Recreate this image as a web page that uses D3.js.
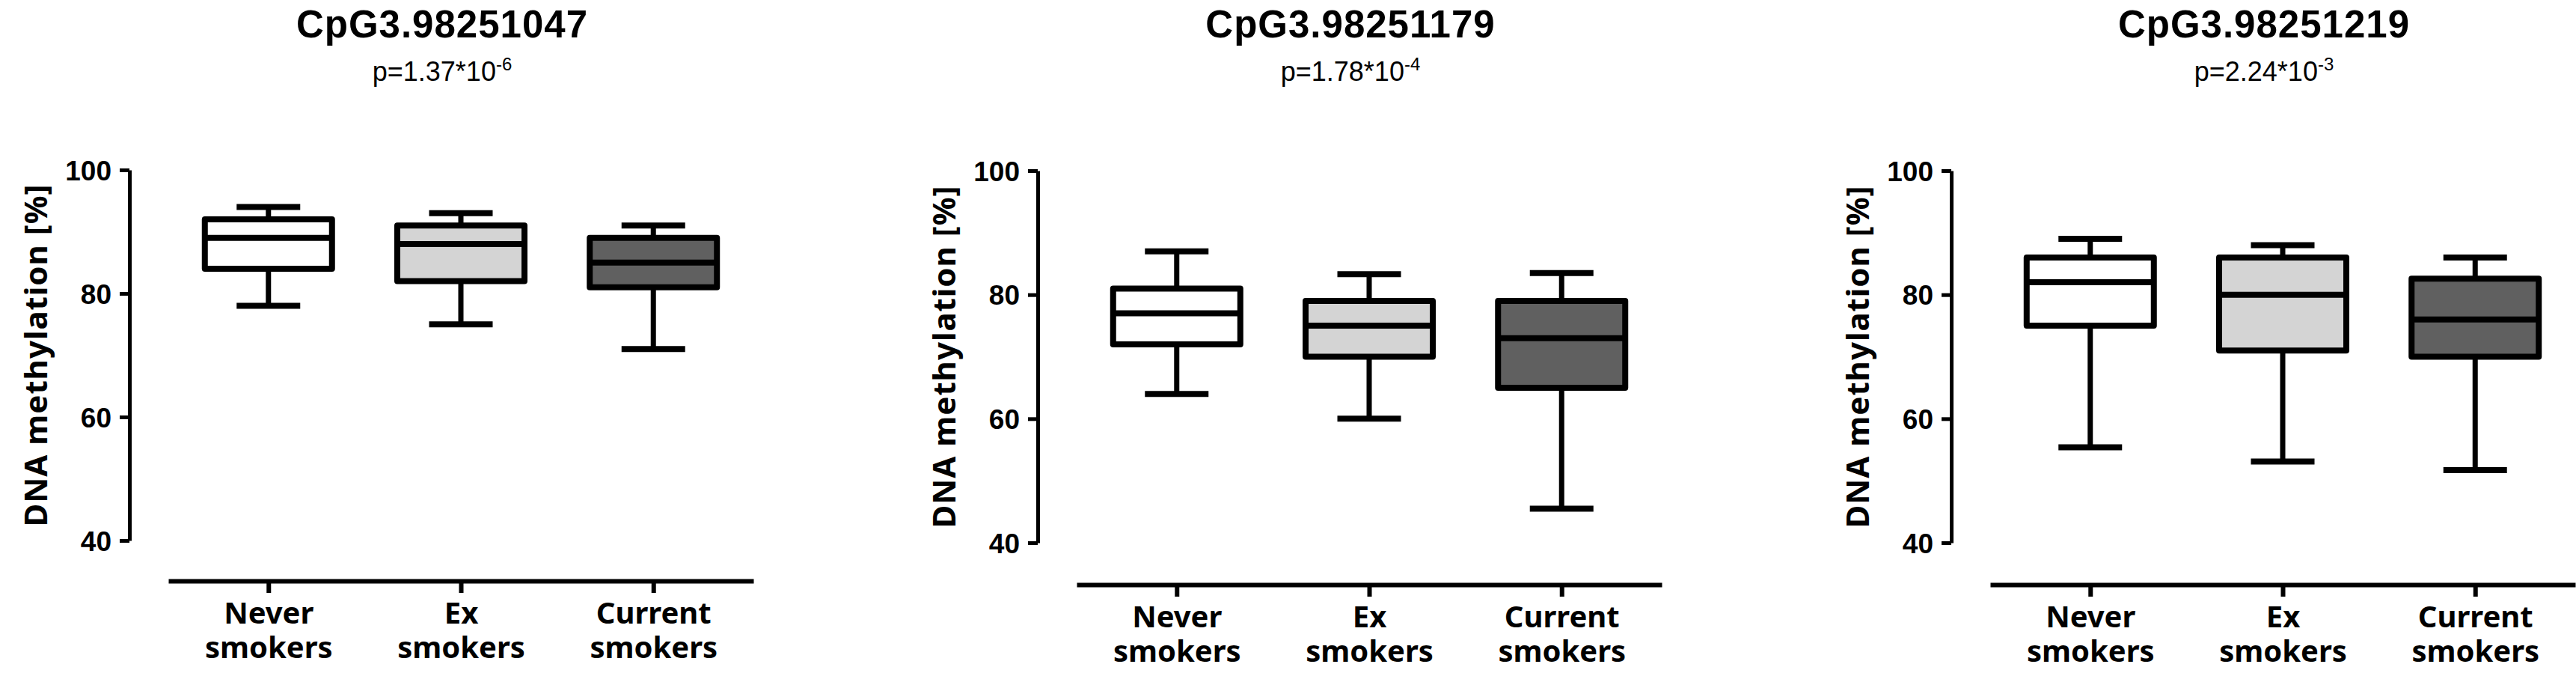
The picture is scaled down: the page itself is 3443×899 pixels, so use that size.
<!DOCTYPE html>
<html>
<head>
<meta charset="utf-8">
<script src="https://cdn.jsdelivr.net/npm/d3@7"></script>
<style>
  body { margin: 0; background: #fff; }
  svg { display: block; }
  .tick text { font-family: "Liberation Sans", Arial, sans-serif; font-weight: bold; }
</style>
</head>
<body>
<svg id="chart" width="3443" height="899"></svg>
<script>
// data
var groups   = ["Never smokers", "Ex smokers", "Current smokers"];
var cpgNames = ["CpG3.98251047", "CpG3.98251179", "CpG3.98251219"];
var pBase    = ["p=1.37*10", "p=1.78*10", "p=2.24*10"];
var pExp     = ["-6", "-4", "-3"];
var yTicks   = [40, 60, 80, 100];

// [whiskerLow, q1, median, q3, whiskerHigh] per group
var cpg1047 = [[78, 84, 89, 92, 94], [75, 82, 88, 91, 93], [71, 81, 85, 89, 91]];
var cpg1179 = [[64, 72, 77, 81, 87], [60, 70, 75, 79, 83.3], [45.5, 65, 73, 79, 83.5]];
var cpg1219 = [[55.4, 75, 82, 86, 89], [53.1, 71, 80, 86, 88], [51.7, 70, 76, 82.6, 86]];
var boxStats = [cpg1047, cpg1179, cpg1219];

var fills = ["#ffffff", "#d4d4d4", "#606060"];

var svg = d3.select("#chart");

// panel layout
var axisX  = [173, 1387, 2608];
var yTop   = [227, 228, 228];
var yBot   = [722, 725, 725];
var xLineY = [776, 781, 781];

var boxW = 170, capW = 85;

cpgNames.forEach(function(name, p) {
  var g = svg.append("g");
  var ax = axisX[p];

  var y = d3.scaleLinear().domain([40, 100]).range([yBot[p], yTop[p]]);
  var x = d3.scalePoint().domain(groups).range([ax + 52, ax + 834]).padding(0.52);

  // titles
  g.append("text")
    .attr("x", ax + 418).attr("y", 50)
    .attr("text-anchor", "middle")
    .style("font-family", "'Liberation Sans', Arial, sans-serif")
    .style("font-weight", "bold")
    .style("font-size", "51px")
    .style("letter-spacing", "1px")
    .text(name);

  var pt = g.append("text")
    .attr("x", ax + 418).attr("y", 108)
    .attr("text-anchor", "middle")
    .style("font-family", "'Liberation Sans', Arial, sans-serif")
    .style("font-size", "36px");
  pt.append("tspan").text(pBase[p]);
  pt.append("tspan").attr("dy", -14).style("font-size", "24px").text(pExp[p]);

  // y axis
  var yAxis = g.append("g")
    .attr("transform", "translate(" + ax + ",0)")
    .call(d3.axisLeft(y).tickValues(yTicks).tickSize(13).tickSizeOuter(0).tickPadding(11));
  yAxis.select(".domain").attr("stroke-width", 5);
  yAxis.selectAll(".tick line").attr("stroke-width", 5);
  yAxis.selectAll(".tick text").style("font-size", "37px").attr("dy", "0.36em");

  g.append("text")
    .attr("transform", "translate(" + (ax - 125) + "," + ((yTop[p] + yBot[p]) / 2) + ") rotate(-90)")
    .attr("text-anchor", "middle")
    .attr("dy", "0.36em")
    .style("font-family", "'Noto Sans', 'Open Sans', sans-serif")
    .style("font-weight", "bold")
    .style("font-size", "42px")
    .style("letter-spacing", "1px")
    .text("DNA methylation [%]");

  // x axis
  var xAxis = g.append("g")
    .attr("transform", "translate(0," + xLineY[p] + ")")
    .call(d3.axisBottom(x).tickSize(16).tickSizeOuter(0));
  xAxis.select(".domain").attr("stroke-width", 6);
  xAxis.selectAll(".tick line").attr("stroke-width", 6);
  xAxis.selectAll(".tick text").remove();
  xAxis.selectAll(".tick").each(function(d) {
    var words = d.split(" ");
    var t = d3.select(this).append("text")
      .attr("text-anchor", "middle")
      .attr("fill", "#000")
      .style("font-family", "'Noto Sans', 'Open Sans', sans-serif")
      .style("font-weight", "bold")
      .style("font-size", "40px");
    t.append("tspan").attr("x", 0).attr("y", 57).text(words[0]);
    t.append("tspan").attr("x", 0).attr("y", 103).text(words[1]);
  });

  // boxes
  var b = g.selectAll(".box").data(boxStats[p]).enter().append("g").attr("class", "box");

  b.append("line")
    .attr("x1", function(d, i) { return x(groups[i]); })
    .attr("x2", function(d, i) { return x(groups[i]); })
    .attr("y1", function(d) { return y(d[0]); })
    .attr("y2", function(d) { return y(d[4]); })
    .attr("stroke", "#000").attr("stroke-width", 7);

  b.append("rect")
    .attr("x", function(d, i) { return x(groups[i]) - boxW / 2; })
    .attr("y", function(d) { return y(d[3]); })
    .attr("width", boxW)
    .attr("height", function(d) { return y(d[1]) - y(d[3]); })
    .attr("fill", function(d, i) { return fills[i]; })
    .attr("stroke", "#000").attr("stroke-width", 8)
    .attr("stroke-linejoin", "round");

  b.append("line")
    .attr("x1", function(d, i) { return x(groups[i]) - boxW / 2; })
    .attr("x2", function(d, i) { return x(groups[i]) + boxW / 2; })
    .attr("y1", function(d) { return y(d[2]); })
    .attr("y2", function(d) { return y(d[2]); })
    .attr("stroke", "#000").attr("stroke-width", 8);

  [0, 4].forEach(function(k) {
    b.append("line")
      .attr("x1", function(d, i) { return x(groups[i]) - capW / 2; })
      .attr("x2", function(d, i) { return x(groups[i]) + capW / 2; })
      .attr("y1", function(d) { return y(d[k]); })
      .attr("y2", function(d) { return y(d[k]); })
      .attr("stroke", "#000").attr("stroke-width", 8);
  });
});
</script>
</body>
</html>
